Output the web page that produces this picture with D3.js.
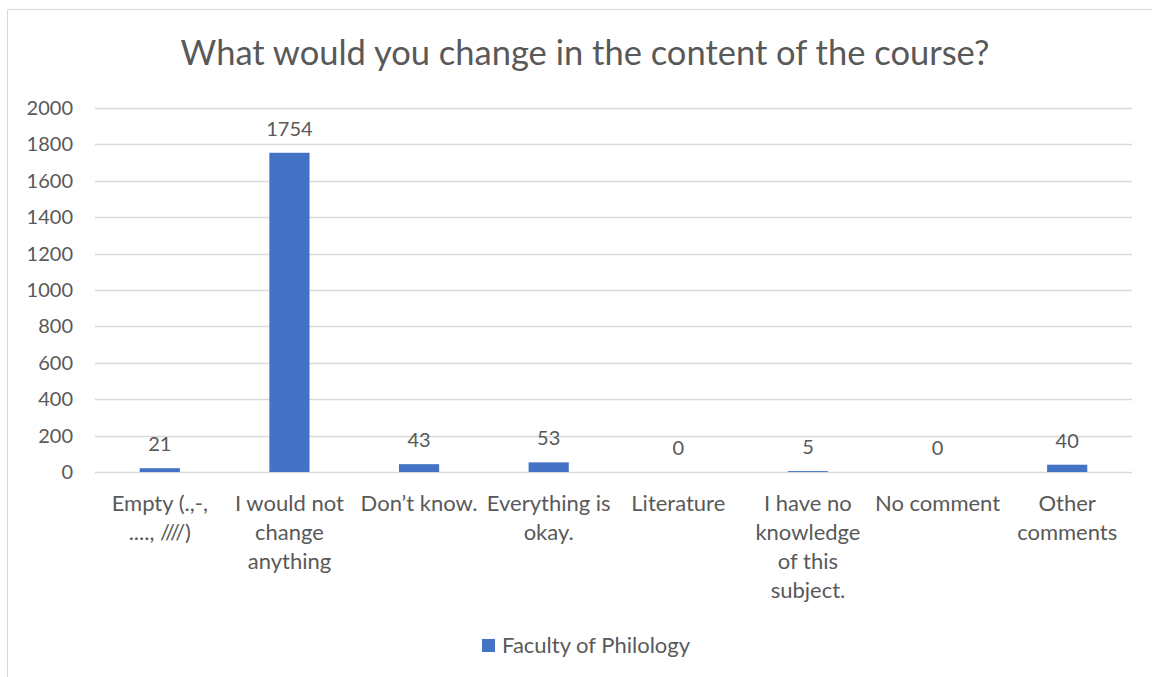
<!DOCTYPE html>
<html>
<head>
<meta charset="utf-8">
<script src="https://cdn.jsdelivr.net/npm/d3@7"></script>
<style>
  html, body { margin: 0; padding: 0; background: #fff; }
  svg { display: block; }
  text { font-family: Lato, "Open Sans", sans-serif; fill: #595959; }
</style>
</head>
<body>
<svg id="chart" width="1152" height="677"></svg>
<script>
// Survey answers (line breaks mark how each label wraps)
const categories = [
  "Empty (.,-,\n...., ////)",
  "I would not\nchange\nanything",
  "Don’t know.",
  "Everything is\nokay.",
  "Literature",
  "I have no\nknowledge\nof this\nsubject.",
  "No comment",
  "Other\ncomments"
];
const values = [21, 1754, 43, 53, 0, 5, 0, 40];
const yTicks = [0, 200, 400, 600, 800, 1000, 1200, 1400, 1600, 1800, 2000];
const seriesName = "Faculty of Philology";
const title = "What would you change in the content of the course?";

const W = 1152, H = 677;
const margin = { left: 95, right: 20, top: 108, bottom: 205 };
const svg = d3.select("#chart");

// Outer chart frame (only top and left edges are inside the view)
svg.append("path")
  .attr("d", `M7.5,${H} V9.5 H${W}`)
  .attr("fill", "none")
  .attr("stroke", "#D9D9D9")
  .attr("stroke-width", 1);

const x = d3.scaleBand()
  .domain(d3.range(categories.length))
  .range([margin.left, W - margin.right])
  .paddingInner(0.69)
  .paddingOuter(0.345);

const y = d3.scaleLinear()
  .domain([0, 2000])
  .range([H - margin.bottom, margin.top]);

// Gridlines
svg.append("g")
  .selectAll("line")
  .data(yTicks)
  .join("line")
  .attr("x1", margin.left)
  .attr("x2", W - margin.right)
  .attr("y1", d => Math.round(y(d)) + 0.5)
  .attr("y2", d => Math.round(y(d)) + 0.5)
  .attr("stroke", "#D9D9D9")
  .attr("stroke-width", 1.3);

// Y axis labels
const yAxis = d3.axisLeft(y).tickValues(yTicks).tickFormat(d3.format("d"))
  .tickSize(0).tickPadding(0);
const yg = svg.append("g")
  .attr("transform", `translate(${margin.left - 22},0)`)
  .call(yAxis);
yg.select(".domain").remove();
yg.selectAll("text")
  .style("font-size", "20px")
  .style("font-family", "Lato, 'Open Sans', sans-serif")
  .attr("fill", "#595959");

// Bars
svg.append("g")
  .selectAll("rect")
  .data(values)
  .join("rect")
  .attr("x", (d, i) => x(i))
  .attr("width", x.bandwidth())
  .attr("y", d => y(d))
  .attr("height", d => y(0) - y(d))
  .attr("fill", "#4472C4");

// Value labels
svg.append("g")
  .selectAll("text")
  .data(values)
  .join("text")
  .attr("x", (d, i) => x(i) + x.bandwidth() / 2)
  .attr("y", d => y(d) - 17)
  .attr("text-anchor", "middle")
  .style("font-size", "20px")
  .text(d => d);

// Category labels
const cat = svg.append("g")
  .selectAll("text")
  .data(categories)
  .join("text")
  .attr("x", (d, i) => x(i) + x.bandwidth() / 2)
  .attr("y", 511)
  .attr("text-anchor", "middle")
  .style("font-size", "22px");
cat.each(function(d) {
  const t = d3.select(this);
  const xx = t.attr("x");
  d.split("\n").forEach((line, k) => {
    t.append("tspan")
      .attr("x", xx)
      .attr("dy", k === 0 ? 0 : 29)
      .text(line);
  });
});

// Title
svg.append("text")
  .attr("x", 585)
  .attr("y", 65)
  .attr("text-anchor", "middle")
  .style("font-size", "34.5px")
  .text(title);

// Legend
const legend = svg.append("g").attr("transform", "translate(482,639)");
legend.append("rect")
  .attr("width", 13).attr("height", 13)
  .attr("fill", "#4472C4");
legend.append("text")
  .attr("x", 20)
  .attr("y", 14)
  .style("font-size", "22px")
  .text(seriesName);
</script>
</body>
</html>
